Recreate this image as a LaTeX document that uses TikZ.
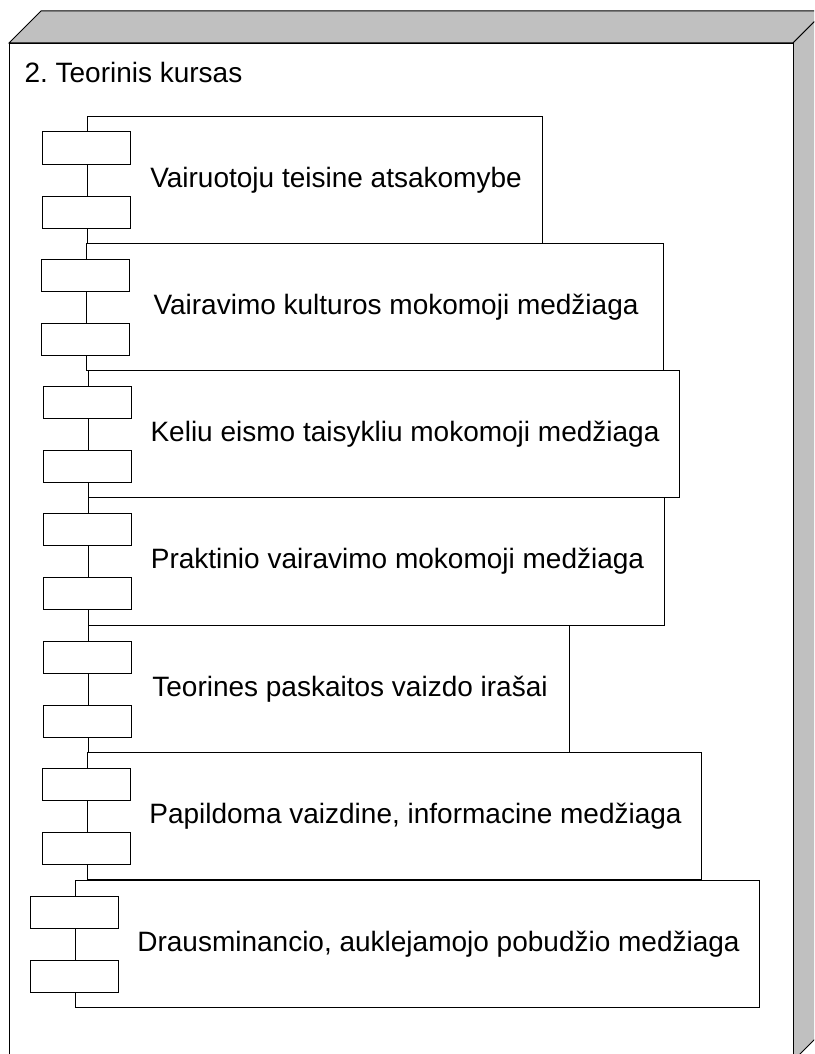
\documentclass[tikz,border=0pt]{standalone}
\usepackage{fontspec}
\setmainfont{Liberation Sans}
\definecolor{nodegrey}{HTML}{C0C0C0}
\begin{document}
\frenchspacing
\begin{tikzpicture}[x=1pt,y=-1pt,line width=1pt,
  device/.style={draw,fill=white,inner sep=0pt,anchor=north west},
  comp/.style={draw,fill=white,inner sep=0pt,anchor=north west},
  port/.style={draw,fill=white,inner sep=0pt,minimum width=88pt,minimum height=32pt},
  lbl/.style={inner sep=0pt,anchor=base,font=\fontsize{28}{34}\selectfont\frenchspacing}]
\useasboundingbox (0,0) rectangle (814,1054);
\fill[white] (0,0) rectangle (814,1054);
\begin{scope}
\clip (0,0) rectangle (814,1054);
% 3D deployment node: top and side faces
\filldraw[fill=nodegrey] (9,43) -- (41,11) -- (825,11) -- (793,43) -- cycle;
\filldraw[fill=nodegrey] (793,43) -- (825,11) -- (825,1029) -- (793,1061) -- cycle;
\node[device,minimum width=784pt,minimum height=1018pt] (dev) at (9,43) {};
\node[lbl,anchor=base west] (title) at (24,83) {2. Teorinis kursas};
% components: index / left / top / right / bottom / text
\foreach \n/\l/\t/\r/\b/\txt in {
  1/87/116/542/243/{Vairuotoju teisine atsakomybe},
  2/86/243/663/370/{Vairavimo kulturos mokomoji medžiaga},
  3/88/370/679/497/{Keliu eismo taisykliu mokomoji medžiaga},
  4/88/497/664/625/{Praktinio vairavimo mokomoji medžiaga},
  5/88/625/569/752/{Teorines paskaitos vaizdo irašai},
  6/87/752/701/879/{Papildoma vaizdine, informacine medžiaga},
  7/75/880/759/1007/{Drausminancio, auklejamojo pobudžio medžiaga}}{
  \node[comp,minimum width={\r-\l},minimum height={\b-\t}] (c\n) at (\l,\t) {};
  \node[port] (c\n p1) at ({\l-1},{\t+32}) {};
  \node[port] (c\n p2) at ({\l-1},{\t+96}) {};
  \node[lbl] (c\n t) at ({(\l+43+\r)/2},{\t+71}) {\txt};
}
\end{scope}
\end{tikzpicture}
\end{document}
